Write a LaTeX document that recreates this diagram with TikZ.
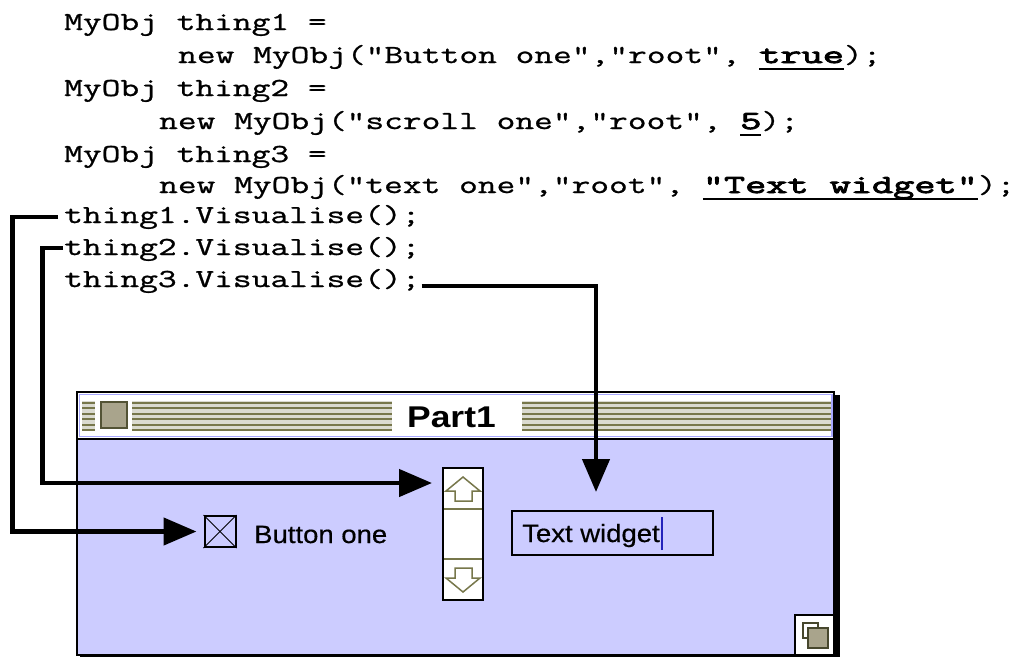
\documentclass[tikz,border=0pt]{standalone}
\usepackage{fontspec}
\usetikzlibrary{arrows.meta}
\newfontfamily\codefont{Latin Modern Mono}[FakeStretch=1.4, FakeBold=0.9, Ligatures=TeXOff]
\newfontfamily\codeboldfont{Latin Modern Mono}[FakeStretch=1.58, FakeBold=3.5, Ligatures=TeXOff]
\newfontfamily\guifont{Liberation Sans}[FakeStretch=1.1, FakeBold=0.5]
\newfontfamily\titlefont{Liberation Sans Bold}[FakeStretch=1.18]
\frenchspacing
\definecolor{lav}{HTML}{CCCCFF}
\definecolor{olive}{HTML}{77774B}
\definecolor{stripebg}{HTML}{DADAD0}
\definecolor{tan}{HTML}{A9A48C}
\definecolor{frameblue}{HTML}{A8A8FF}
\definecolor{cursorblue}{HTML}{2222BB}
\newsavebox\ulbox
\newcommand\codeul[1]{\sbox\ulbox{#1}\rlap{\rule[-7pt]{\wd\ulbox}{2pt}}\usebox\ulbox}
\begin{document}
\begin{tikzpicture}[x=1pt,y=-1pt,
  code/.style={anchor=base west, inner sep=0pt, font=\codefont\fontsize{26}{26}\selectfont},
  gui/.style={anchor=base west, inner sep=0pt, font=\guifont\fontsize{25}{25}\selectfont},
  conn/.style={line width=4.5pt, -{Triangle[length=33pt,width=27pt]}},
  stripe/.style={olive, line width=2pt},
  arrowbtn/.style={olive, line width=1.5pt, fill=white, line join=miter}]
\useasboundingbox (0,0) rectangle (1014,657);

% ---- source code ----
\node[code] (l1) at (64,30)  {MyObj thing1 =};
\node[code] (l2) at (178,63) {new MyObj("Button one","root", \codeul{\codeboldfont true});};
\node[code] (l3) at (64,96)  {MyObj thing2 =};
\node[code] (l4) at (159,129) {new MyObj("scroll one","root", \codeul{\codeboldfont 5});};
\node[code] (l5) at (64,162) {MyObj thing3 =};
\node[code] (l6) at (159,193) {new MyObj("text one","root", \codeul{\codeboldfont "Text widget"});};
\node[code] (t1) at (64,223) {thing1.Visualise();};
\node[code] (t2) at (64,255) {thing2.Visualise();};
\node[code] (t3) at (64,287) {thing3.Visualise();};

% ---- window: title bar ----
\fill[white] (77,392) rectangle (834,439);
\draw[frameblue, line width=1.5pt] (79.5,394.5) rectangle (832,436.5);
\fill[stripebg] (82,401) rectangle (95,431);
\fill[stripebg] (132,401) rectangle (392,431);
\fill[stripebg] (522,401) rectangle (831,431);
\foreach \i in {0,...,5}{
  \draw[stripe] (82,402.5+5.5*\i) -- (95,402.5+5.5*\i);
  \draw[stripe] (132,402.5+5.5*\i) -- (392,402.5+5.5*\i);
  \draw[stripe] (522,402.5+5.5*\i) -- (831,402.5+5.5*\i);
}
\fill[white] (97,399) rectangle (130,432);
\draw[fill=tan, draw=olive!70!black, line width=2pt] (101,402) rectangle (127,428);
\node[anchor=base west, inner sep=0pt, font=\titlefont\fontsize{30}{30}\selectfont] (title) at (407,427) {Part1};

% ---- window: body and frame ----
\fill[lav] (77,439) rectangle (834,655);
\draw[line width=1.5pt] (77,439) -- (834,439);
\draw[line width=1.5pt] (77,392) rectangle (834,655);
\fill[black] (834,395) rectangle (840,657);
\fill[black] (80,655) rectangle (840,657);

% grow box
\draw[fill=white, line width=1.5pt] (795,615) rectangle (834,655);
\draw[line width=1.5pt, draw=olive!60!black] (803,623) rectangle (818,638);
\draw[fill=tan, draw=olive!60!black, line width=1.5pt] (808,628) rectangle (828,648);

% ---- widgets ----
\node[draw, line width=2pt, fill=lav, minimum width=31pt, minimum height=31pt, inner sep=0pt] (chk) at (220,531.5) {};
\draw[line width=1pt] (chk.north west) -- (chk.south east);
\draw[line width=1pt] (chk.south west) -- (chk.north east);
\node[gui] (lbl) at (254,543) {Button one};

\node[draw, line width=2pt, fill=white, minimum width=40pt, minimum height=132pt, inner sep=0pt] (scroll) at (463,534) {};
\draw[olive, line width=1.5pt] (444,509) -- (482,509);
\draw[olive, line width=1.5pt] (444,559) -- (482,559);
\draw[arrowbtn] (463,477) -- (480,491) -- (472,491) -- (472,501) -- (455,501) -- (455,491) -- (446,491) -- cycle;
\draw[arrowbtn] (463,592) -- (480,578) -- (472,578) -- (472,568) -- (455,568) -- (455,578) -- (446,578) -- cycle;

\node[draw, line width=2pt, fill=lav, minimum width=201pt, minimum height=44pt, inner sep=0pt] (tw) at (612.5,533) {};
\node[gui] (twtext) at (522,542) {Text widget};
\draw[cursorblue, line width=2pt] ([xshift=2pt,yshift=-8pt]twtext.base east) -- ++(0,-33);

% ---- connectors ----
\coordinate (r1) at (12.5,0);
\coordinate (r2) at (42.5,0);
\coordinate (r3) at (596,0);
\coordinate (sbtarget) at ([yshift=51pt]scroll.west);
\draw[conn, shorten >=7pt] ([xshift=-6pt,yshift=6pt]t1.base west) -| (r1 |- chk.west) -- (chk.west);
\draw[conn, shorten >=10pt] ([xshift=-1pt,yshift=7pt]t2.base west) -| (r2 |- sbtarget) -- (sbtarget);
\draw[conn, shorten >=18pt] ([xshift=1pt,yshift=1pt]t3.base east) -| (r3 |- tw.north);
\end{tikzpicture}
\end{document}
